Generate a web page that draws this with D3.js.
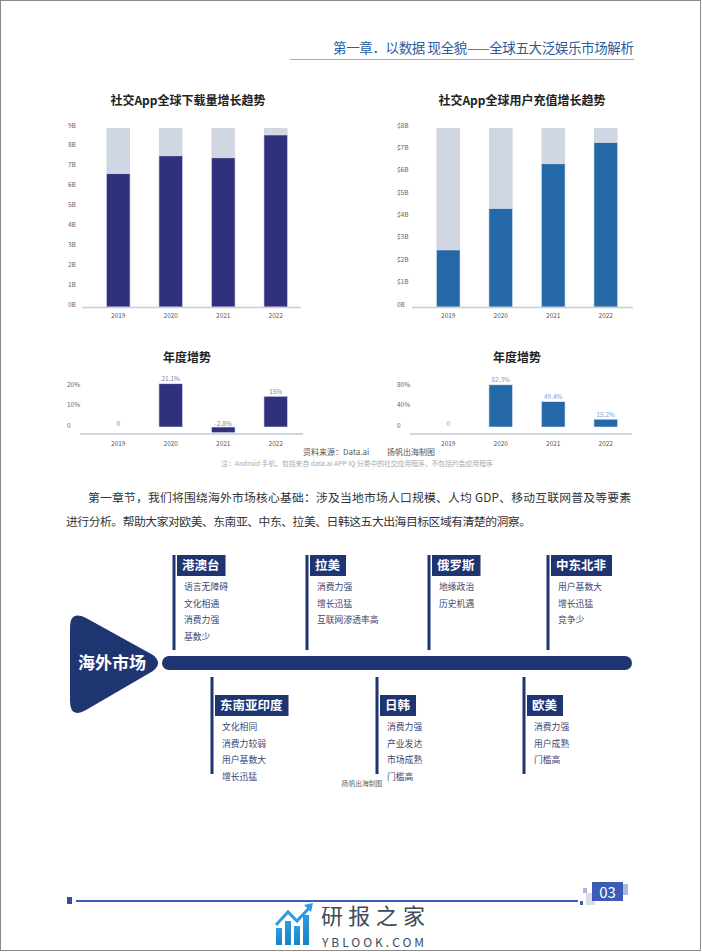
<!DOCTYPE html>
<html><head><meta charset="utf-8">
<script src="https://cdn.jsdelivr.net/npm/d3@7"></script>
<style>
html,body{margin:0;padding:0;background:#fff;}
svg{display:block;}
text{font-family:"Noto Sans CJK SC","Noto Sans",sans-serif;}
</style></head>
<body>
<svg id="c" width="702" height="952"></svg>
<script>
// ---------------- data ----------------
const years = ["2019","2020","2021","2022"];
const downloads = [6.7, 7.6, 7.5, 8.65];            // B
const downloadMax = 9;
const downloadTickValues = [0,1,2,3,4,5,6,7,8,9];
const downloadTickLabels = ["0B","1B","2B","3B","4B","5B","6B","7B","8B","9B"];
const revenue = [2.55, 4.4, 6.4, 7.35];             // $B
const revenueMax = 8;
const revenueTickValues = [0,1,2,3,4,5,6,7,8];
const revenueTickLabels = ["0B","$1B","$2B","$3B","$4B","$5B","$6B","$7B","$8B"];
const downloadGrowth = [0, 21.1, -2.8, 15];
const downloadGrowthLabels = ["0","21.1%","-2.8%","15%"];
const downloadGrowthTicks = [0,10,20];
const downloadGrowthTickLabels = ["0","10%","20%"];
const revenueGrowth = [0, 82.3, 49.4, 15.2];
const revenueGrowthLabels = ["0","82.3%","49.4%","15.2%"];
const revenueGrowthTicks = [0,40,80];
const revenueGrowthTickLabels = ["0","40%","80%"];

const topRegions = ["港澳台","拉美","俄罗斯","中东北非"];
const topRegionItems = [
  ["语言无障碍","文化相通","消费力强","基数少"],
  ["消费力强","增长迅猛","互联网渗透率高"],
  ["地缘政治","历史机遇"],
  ["用户基数大","增长迅猛","竞争少"]
];
const bottomRegions = ["东南亚印度","日韩","欧美"];
const bottomRegionItems = [
  ["文化相同","消费力较弱","用户基数大","增长迅猛"],
  ["消费力强","产业发达","市场成熟","门槛高"],
  ["消费力强","用户成熟","门槛高"]
];

// ---------------- drawing ----------------
const svg = d3.select("#c");
const NAVY = "#1f3572";

// page border
svg.append("rect").attr("x",0.5).attr("y",0.5).attr("width",700).attr("height",950)
  .attr("fill","none").attr("stroke","#8a8a8a").attr("stroke-width",1);

// header
svg.append("text").attr("x",333).attr("y",53)
  .attr("font-size",13.5).attr("fill","#2d5c9e").attr("textLength",301).attr("lengthAdjust","spacing")
  .text("第一章．以数据 现全貌——全球五大泛娱乐市场解析");
svg.append("line").attr("x1",290).attr("x2",634).attr("y1",59.5).attr("y2",59.5)
  .attr("stroke","#8a94aa").attr("stroke-width",0.8);

function stackChart(opt){
  const g = svg.append("g");
  g.append("text").attr("x",opt.titleX).attr("y",105).attr("text-anchor","middle")
    .attr("font-size",12).attr("font-weight","bold").attr("fill","#222").text(opt.title);
  const x = d3.scaleBand().domain(years).range(opt.xr).paddingInner(0.55).paddingOuter(0.37);
  const y = d3.scaleLinear().domain([0,opt.max]).range([307,128]);
  const ax = d3.axisLeft(y).tickValues(opt.tickValues)
    .tickFormat((d,i)=>opt.tickLabels[i]).tickSize(0).tickPadding(0);
  const ag = g.append("g").attr("transform",`translate(${opt.tickX},-3)`).call(ax);
  ag.select(".domain").remove();
  ag.selectAll("text").attr("text-anchor","start").attr("font-size",6.5).attr("fill","#666")
    .attr("font-family","Lato,'Noto Sans',sans-serif");
  g.selectAll(".bg").data(years).join("rect").attr("x",d=>x(d)).attr("width",x.bandwidth())
    .attr("y",y(opt.max)).attr("height",y(0)-y(opt.max)).attr("fill","#d1d7e2");
  g.selectAll(".fg").data(opt.values).join("rect").attr("x",(d,i)=>x(years[i])).attr("width",x.bandwidth())
    .attr("y",d=>y(d)).attr("height",d=>y(0)-y(d)).attr("fill",opt.color)
    .attr("stroke","#e8ecf5").attr("stroke-width",0.6);
  g.append("line").attr("x1",opt.axis[0]).attr("x2",opt.axis[1]).attr("y1",307.5).attr("y2",307.5)
    .attr("stroke","#c9cdd8").attr("stroke-width",1.5);
  const bx = d3.axisBottom(x).tickSize(0).tickPadding(0);
  const bg = g.append("g").attr("transform","translate(0,313)").call(bx);
  bg.select(".domain").remove();
  bg.selectAll("text").attr("font-size",6.5).attr("fill","#555").attr("dy","0.7em")
    .attr("font-family","Lato,'Noto Sans',sans-serif");
  return x;
}

stackChart({title:"社交App全球下载量增长趋势",titleX:188,xr:[87,307],max:downloadMax,
  values:downloads,tickValues:downloadTickValues,tickLabels:downloadTickLabels,tickX:68,
  color:"#2f317d",axis:[82,301]});
stackChart({title:"社交App全球用户充值增长趋势",titleX:522,xr:[417,637],max:revenueMax,
  values:revenue,tickValues:revenueTickValues,tickLabels:revenueTickLabels,tickX:397,
  color:"#2468a8",axis:[412,633]});

function growthChart(opt){
  const g = svg.append("g");
  g.append("text").attr("x",opt.titleX).attr("y",362).attr("text-anchor","middle")
    .attr("font-size",12).attr("font-weight","bold").attr("fill","#222").text("年度增势");
  const x = d3.scaleBand().domain(years).range(opt.xr).paddingInner(0.55).paddingOuter(0.37);
  const y = d3.scaleLinear().domain([0,opt.topVal]).range([427,386]);
  const ax = d3.axisLeft(y).tickValues(opt.ticks).tickFormat((d,i)=>opt.tickLabels[i]).tickSize(0).tickPadding(0);
  const ag = g.append("g").attr("transform",`translate(${opt.tickX},-2)`).call(ax);
  ag.select(".domain").remove();
  ag.selectAll("text").attr("text-anchor","start").attr("font-size",6.5).attr("fill","#666")
    .attr("font-family","Lato,'Noto Sans',sans-serif");
  g.selectAll(".b").data(opt.values).join("rect")
    .attr("x",(d,i)=>x(years[i])).attr("width",x.bandwidth())
    .attr("y",d=>d>=0?y(d):y(0)).attr("height",d=>Math.abs(y(d)-y(0)))
    .attr("fill",opt.color).attr("stroke","#e8ecf5").attr("stroke-width",0.6);
  g.selectAll(".l").data(opt.values).join("text")
    .attr("x",(d,i)=>x(years[i])+x.bandwidth()/2)
    .attr("y",d=>d>0?y(d)-2.5:y(0)-1.5)
    .attr("text-anchor","middle").attr("font-size",6.5).attr("fill",opt.labelColor)
    .attr("font-family","Lato,'Noto Sans',sans-serif")
    .text((d,i)=>opt.labels[i]);
  g.append("line").attr("x1",opt.axis[0]).attr("x2",opt.axis[1]).attr("y1",434).attr("y2",434)
    .attr("stroke","#d2d5dc").attr("stroke-width",2);
  const bx = d3.axisBottom(x).tickSize(0).tickPadding(0);
  const bg = g.append("g").attr("transform","translate(0,441)").call(bx);
  bg.select(".domain").remove();
  bg.selectAll("text").attr("font-size",6.5).attr("fill","#555").attr("dy","0.7em")
    .attr("font-family","Lato,'Noto Sans',sans-serif");
}
growthChart({titleX:187,xr:[87,307],values:downloadGrowth,labels:downloadGrowthLabels,topVal:20,
  ticks:downloadGrowthTicks,tickLabels:downloadGrowthTickLabels,tickX:67,color:"#2f317d",
  labelColor:"#7f7fb5",axis:[80,303]});
growthChart({titleX:517,xr:[417,637],values:revenueGrowth,labels:revenueGrowthLabels,topVal:80,
  ticks:revenueGrowthTicks,tickLabels:revenueGrowthTickLabels,tickX:397,color:"#2468a8",
  labelColor:"#75a5d3",axis:[410,632]});

// source notes
svg.append("text").attr("x",303).attr("y",455).attr("font-size",8).attr("fill","#555")
  .text("资料来源：Data.ai　　 扬帆出海制图");
svg.append("text").attr("x",357).attr("y",466).attr("text-anchor","middle").attr("font-size",6.8).attr("fill","#a8a8a8")
  .text("注：Android 手机、包括来自 data.ai APP IQ 分类中的社交应用程序，不包括约会应用程序");

// paragraph
svg.append("text").attr("x",88).attr("y",502).attr("font-size",11.8).attr("fill","#333")
  .attr("textLength",543).attr("lengthAdjust","spacing")
  .text("第一章节，我们将围绕海外市场核心基础：涉及当地市场人口规模、人均 GDP、移动互联网普及等要素");
svg.append("text").attr("x",66).attr("y",526).attr("font-size",11.8).attr("fill","#333")
  .attr("textLength",465).attr("lengthAdjust","spacing")
  .text("进行分析。帮助大家对欧美、东南亚、中东、拉美、日韩这五大出海目标区域有清楚的洞察。");

// timeline
const tl = svg.append("g");
tl.append("path")
  .attr("d","M70,628 Q70,610 86,618 L153,655 Q163,663 153,671 L86,710 Q70,719 70,701 Z")
  .attr("fill",NAVY);
tl.append("text").attr("x",112).attr("y",669).attr("text-anchor","middle").attr("font-size",17)
  .attr("font-weight","bold").attr("fill","#fff").text("海外市场");
tl.append("rect").attr("x",162).attr("y",656).attr("width",470).attr("height",14).attr("rx",7).attr("fill",NAVY);

const topX = [174, 307, 429, 548];
const botX = [212, 377, 524];
function region(x0, yTop, yBot, boxY, name, items){
  tl.append("rect").attr("x",x0-1.5).attr("y",yTop).attr("width",3).attr("height",yBot-yTop).attr("fill",NAVY);
  const box = tl.append("rect").attr("x",x0+3).attr("y",boxY).attr("height",21).attr("fill",NAVY);
  const t = tl.append("text").attr("x",x0+8).attr("y",boxY+15).attr("font-size",12.5)
    .attr("font-weight","bold").attr("fill","#fff").text(name);
  box.attr("width",t.node().getComputedTextLength()+11);
  items.forEach((s,i)=>{
    tl.append("text").attr("x",x0+10).attr("y",boxY+35+i*16.5).attr("font-size",8.8).attr("fill","#3b4670").text(s);
  });
}
topRegions.forEach((n,i)=>region(topX[i],555,650,555,n,topRegionItems[i]));
bottomRegions.forEach((n,i)=>region(botX[i],677,774,695,n,bottomRegionItems[i]));
svg.append("text").attr("x",362).attr("y",786).attr("text-anchor","middle").attr("font-size",6.8)
  .attr("fill","#666").text("扬帆出海制图");

// footer
const ft = svg.append("g");
ft.append("rect").attr("x",67).attr("y",897).attr("width",5).attr("height",7).attr("fill","#2f4fa0");
ft.append("rect").attr("x",76).attr("y",900).attr("width",502).attr("height",2).attr("fill","#3c5bb5");
ft.append("rect").attr("x",580).attr("y",901).attr("width",3).attr("height",4).attr("fill","#3c5bb5");
ft.append("rect").attr("x",586).attr("y",893).attr("width",9).attr("height",12).attr("fill","#d9dde6");
ft.append("rect").attr("x",583).attr("y",888).attr("width",4).attr("height",5).attr("fill","#a9b7dd");
ft.append("rect").attr("x",620).attr("y",884).attr("width",8).attr("height",11).attr("fill","#a9b7dd");
ft.append("rect").attr("x",592).attr("y",882).attr("width",31).attr("height",19).attr("fill","#3c5bb5");
ft.append("text").attr("x",607.5).attr("y",898).attr("text-anchor","middle").attr("font-size",15)
  .attr("fill","#fff").attr("font-family","Lato,'Noto Sans',sans-serif").text("03");

// logo
const lg = svg.append("g");
const grad = svg.append("defs").append("linearGradient").attr("id","lgr").attr("x1",0).attr("y1",0).attr("x2",0).attr("y2",1);
grad.append("stop").attr("offset",0).attr("stop-color","#2f9be0");
grad.append("stop").attr("offset",1).attr("stop-color","#1782c8");
[[276,928,6],[285,921,6],[294,926,6],[303,915,6]].forEach(([x,y,w])=>{
  lg.append("rect").attr("x",x).attr("y",y).attr("width",w).attr("height",945-y).attr("fill","url(#lgr)");
});
lg.append("path").attr("d","M276,925 L288,912 L297,921 L310,907").attr("fill","none")
  .attr("stroke","#2f9be0").attr("stroke-width",3);
lg.append("path").attr("d","M304,905 L313,903 L311,912 Z").attr("fill","#2f9be0");
lg.append("text").attr("x",321).attr("y",924).attr("font-size",22).attr("fill","#3d4a5a")
  .attr("textLength",104).text("研报之家");
lg.append("text").attr("x",322).attr("y",947).attr("font-size",12).attr("fill","#3d4a5a")
  .attr("textLength",102).attr("font-family","'Open Sans','Noto Sans',sans-serif").text("YBLOOK.COM");
</script>
</body></html>
